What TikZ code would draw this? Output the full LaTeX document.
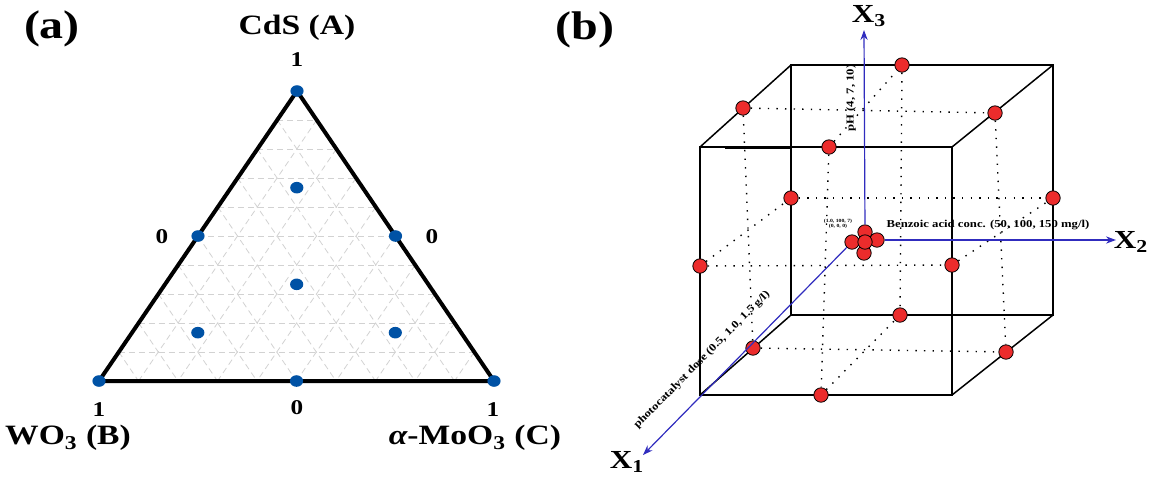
\documentclass[tikz,border=0pt]{standalone}
\usepackage{fontspec}
\setmainfont{Liberation Serif}[FakeStretch=1.2]
\usetikzlibrary{arrows.meta,calc,shapes.geometric}
\definecolor{dotblue}{RGB}{0,82,165}
\definecolor{ptred}{RGB}{236,44,44}
\definecolor{axblue}{RGB}{48,44,190}

\begin{document}
\begin{tikzpicture}[x=0.5pt,y=-0.5pt,
  bluedot/.style={ellipse,fill=dotblue,inner sep=0pt,minimum width=6.6pt,minimum height=5.8pt},
  reddot/.style={circle,fill=ptred,draw=black,line width=0.4pt,inner sep=0pt,minimum size=7.2pt},
  gridline/.style={gray!35,line width=0.4pt,dash pattern=on 3pt off 2pt},
  edge/.style={line width=0.75pt},
  midline/.style={line width=0.7pt,dash pattern=on 0.7pt off 3.6pt},
  axis/.style={draw=axblue,line width=0.6pt,-{Stealth[length=5pt,width=3.6pt]}},
  panel/.style={font=\bfseries\fontsize{20}{22}\selectfont,inner sep=0pt},
  lab/.style={font=\bfseries\fontsize{14}{16}\selectfont,inner sep=0pt},
  xlab/.style={font=\bfseries\fontsize{13}{15}\selectfont,inner sep=0pt},
  num/.style={font=\bfseries\fontsize{10.5}{12}\selectfont,inner sep=0pt},
  axlab/.style={font=\bfseries\fontsize{5.3}{6}\selectfont,inner sep=0pt}]
\useasboundingbox (0,0) rectangle (1151,479);

% (a) mixture triangle
\coordinate (pA) at (297,91);
\coordinate (pB) at (99,381);
\coordinate (pC) at (494,381);
\foreach \i [evaluate=\i as \t using \i/10] in {1,...,9} {
  \draw[gridline] ($(pB)!\t!(pA)$) -- ($(pC)!\t!(pA)$);
  \draw[gridline] ($(pA)!\t!(pB)$) -- ($(pC)!\t!(pB)$);
  \draw[gridline] ($(pA)!\t!(pC)$) -- ($(pB)!\t!(pC)$);
}
\draw[line width=2pt] (pA) -- (pB) -- (pC) -- cycle;

\node[bluedot] (dA) at (pA) {};
\node[bluedot] (dB) at (pB) {};
\node[bluedot] (dC) at (pC) {};
\node[bluedot] (dAB) at (barycentric cs:pA=1,pB=1) {};
\node[bluedot] (dAC) at (barycentric cs:pA=1,pC=1) {};
\node[bluedot] (dBC) at (barycentric cs:pB=1,pC=1) {};
\node[bluedot] (dABC) at (barycentric cs:pA=1,pB=1,pC=1) {};
\node[bluedot] (dAx) at (barycentric cs:pA=4,pB=1,pC=1) {};
\node[bluedot] (dBx) at (barycentric cs:pA=1,pB=4,pC=1) {};
\node[bluedot] (dCx) at (barycentric cs:pA=1,pB=1,pC=4) {};

\node[panel] (pa) at (52,29) {(a)};
\node[lab] (tA) at (297,28) {CdS (A)};
\node[lab] (tB) at (68,438) {WO\textsubscript{3} (B)};
\node[lab] (tC) at (475,438) {{\itshape α}-MoO\textsubscript{3} (C)};
\node[num] (nA) at (297,60) {1};
\node[num] (nAB) at (162,237) {0};
\node[num] (nAC) at (432,237) {0};
\node[num] (nB) at (99,410) {1};
\node[num] (nBC) at (297,408) {0};
\node[num] (nC) at (493,410) {1};

% (b) Box-Behnken cube
\coordinate (f1) at (700,147);
\coordinate (f2) at (952,147);
\coordinate (f3) at (952,395);
\coordinate (f4) at (700,395);
\coordinate (b1) at (791,65);
\coordinate (b2) at (1053,65);
\coordinate (b3) at (1053,315);
\coordinate (b4) at (791,315);
\draw[edge] (f1) -- (f2) -- (f3) -- (f4) -- cycle;
\draw[edge] (b1) -- (b2) -- (b3) -- (b4) -- cycle;
\draw[edge] (f1) -- (b1);
\draw[edge] (f2) -- (b2);
\draw[edge] (f3) -- (b3);
\draw[edge] (f4) -- (b4);
\draw[line width=1.5pt] (725,147) -- (791,147);

\node[reddot] (bt) at (902,65) {};
\node[reddot] (tl) at (743,108) {};
\node[reddot] (tr) at (995,113) {};
\node[reddot] (ft) at (829,147) {};
\node[reddot] (bl) at (791,198) {};
\node[reddot] (br) at (1053,198) {};
\node[reddot] (fl) at (700,266) {};
\node[reddot] (fr) at (952,265) {};
\node[reddot] (bb) at (900,315) {};
\node[reddot] (dl) at (753,348) {};
\node[reddot] (dr) at (1006,352) {};
\node[reddot] (fb) at (821,395) {};

\draw[midline] (tl) -- (tr);
\draw[midline] (bl) -- (br);
\draw[midline] (fl) -- (fr);
\draw[midline] (dl) -- (dr);
\draw[midline] (bt) -- (bb);
\draw[midline] (ft) -- (fb);
\draw[midline] (tl) -- (dl);
\draw[midline] (tr) -- (dr);
\draw[midline] (ft) -- (bt);
\draw[midline] (fb) -- (bb);
\draw[midline] (fl) -- (bl);
\draw[midline] (fr) -- (br);

% centre runs
\node[reddot] (cT) at (865,232) {};
\node[reddot] (cL) at (852,242) {};
\node[reddot] (cR) at (877,240) {};
\node[reddot] (cB) at (864,253) {};
\node[reddot] (c0) at (865,242) {};

\coordinate (x3tip) at (864,30);
\coordinate (x2tip) at (1116,240);
\coordinate (x1tip) at (643,455);
\draw[axis] (cT) -- (x3tip);
\draw[axis] (cR) -- (x2tip);
\draw[axis] (cL) -- (x1tip);

\node[panel] (pb) at (585,30) {(b)};
\node[xlab] (X3) at (869,16) {X\textsubscript{3}};
\node[xlab] (X2) at (1131,242) {X\textsubscript{2}};
\node[xlab] (X1) at (627,462) {X\textsubscript{1}};
\node[axlab,rotate=90] (pH) at (851,98) {pH (4, 7, 10)};
\node[axlab] (bz) at (988,225) {Benzoic acid conc. (50, 100, 150 mg/l)};
\node[axlab,rotate=45.4] (pd) at (702,360) {photocatalyst dose (0.5, 1.0, 1.5 g/l)};
\node[font=\bfseries\fontsize{2.4}{2.7}\selectfont,inner sep=0pt,align=center] (c0lab) at (838,224) {(1.0, 100, 7)\\(0, 0, 0)};
\end{tikzpicture}
\end{document}
